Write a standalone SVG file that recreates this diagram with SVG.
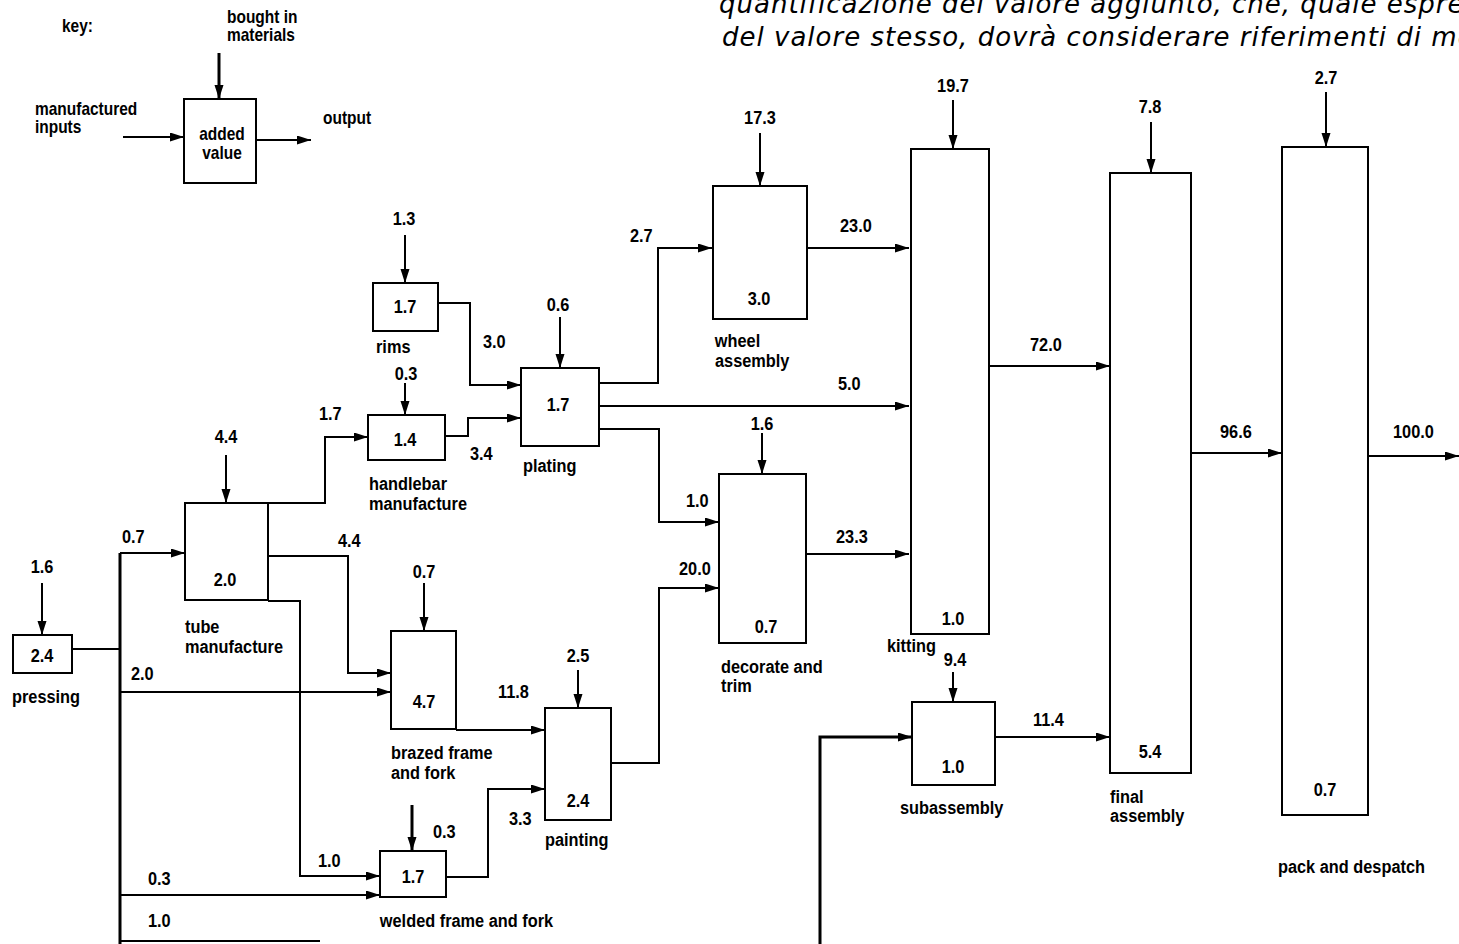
<svg xmlns="http://www.w3.org/2000/svg" width="1459" height="944" viewBox="0 0 1459 944">
<style>
.bg{fill:#fff}
.box{fill:none;stroke:#000;stroke-width:2}
.ln{fill:none;stroke:#000;stroke-width:2}
.tk{fill:none;stroke:#000;stroke-width:3}
.t,.n,.k{font-family:"Liberation Sans",Arial,sans-serif;font-weight:bold;fill:#000;transform-box:fill-box;transform:scaleX(0.86)}
.t{font-size:19px;transform-origin:0 50%}
.n{font-size:19px;text-anchor:middle;transform-origin:50% 50%}
.k{font-size:18px;transform-origin:0 50%}
.kc{text-anchor:middle;transform-origin:50% 50%}
.it{font-family:"DejaVu Sans",Verdana,sans-serif;font-style:italic;font-size:26px;letter-spacing:1px;fill:#000}
</style>
<defs>
<marker id="ah" markerUnits="userSpaceOnUse" markerWidth="15" markerHeight="10" refX="14" refY="4.5" orient="auto">
<path d="M0,0 L14,4.5 L0,9 z" fill="#000"/>
</marker>
</defs>
<rect class="bg" x="0" y="0" width="1459" height="944"/>

<g id="heading">
<text class="it" x="719" y="13">quantificazione del valore aggiunto, che, quale espressione</text>
<text class="it" x="722" y="46">del valore stesso, dovrà considerare riferimenti di mercato</text>
</g>

<g id="key">
<text class="k" x="62" y="32">key:</text>
<text class="k" x="227" y="23">bought in</text>
<text class="k" x="227" y="41">materials</text>
<text class="k" x="35" y="115">manufactured</text>
<text class="k" x="35" y="133">inputs</text>
<text class="k" x="323" y="124">output</text>
<rect class="box" x="184" y="99" width="72" height="84"/>
<text class="k kc" x="222" y="140">added</text>
<text class="k kc" x="222" y="159">value</text>
<line class="tk" x1="219" y1="53" x2="219" y2="99" marker-end="url(#ah)"/>
<line class="ln" x1="123" y1="137" x2="184" y2="137" marker-end="url(#ah)"/>
<line class="ln" x1="256" y1="140" x2="311" y2="140" marker-end="url(#ah)"/>
</g>

<g id="pressing">
<rect class="box" x="13" y="635" width="59" height="38"/>
<text class="n" x="42" y="662">2.4</text>
<text class="n" x="42" y="573">1.6</text>
<line class="ln" x1="42" y1="583" x2="42" y2="635" marker-end="url(#ah)"/>
<text class="t" x="12" y="703">pressing</text>
</g>

<g id="tube">
<rect class="box" x="185" y="503" width="83" height="97"/>
<text class="n" x="225" y="586">2.0</text>
<text class="n" x="226" y="443">4.4</text>
<line class="ln" x1="226" y1="455" x2="226" y2="503" marker-end="url(#ah)"/>
<text class="t" x="185" y="633">tube</text>
<text class="t" x="185" y="653">manufacture</text>
</g>

<g id="brazed">
<rect class="box" x="391" y="631" width="65" height="98"/>
<text class="n" x="424" y="708">4.7</text>
<text class="n" x="424" y="578">0.7</text>
<line class="ln" x1="424" y1="583" x2="424" y2="631" marker-end="url(#ah)"/>
<text class="t" x="391" y="759">brazed frame</text>
<text class="t" x="391" y="779">and fork</text>
</g>

<g id="welded">
<rect class="box" x="380" y="851" width="66" height="46"/>
<text class="n" x="413" y="883">1.7</text>
<text class="t" x="433" y="838">0.3</text>
<line class="tk" x1="412" y1="805" x2="412" y2="851" marker-end="url(#ah)"/>
<text class="t" x="380" y="927">welded frame and fork</text>
</g>

<g id="painting">
<rect class="box" x="545" y="708" width="66" height="112"/>
<text class="n" x="578" y="807">2.4</text>
<text class="n" x="578" y="662">2.5</text>
<line class="ln" x1="578" y1="670" x2="578" y2="708" marker-end="url(#ah)"/>
<text class="t" x="545" y="846">painting</text>
</g>

<g id="rims">
<rect class="box" x="373" y="283" width="65" height="48"/>
<text class="n" x="405" y="313">1.7</text>
<text class="n" x="404" y="225">1.3</text>
<line class="ln" x1="405" y1="235" x2="405" y2="283" marker-end="url(#ah)"/>
<text class="t" x="376" y="353">rims</text>
</g>

<g id="handlebar">
<rect class="box" x="368" y="415" width="77" height="45"/>
<text class="n" x="405" y="446">1.4</text>
<text class="n" x="406" y="380">0.3</text>
<line class="ln" x1="405" y1="383" x2="405" y2="415" marker-end="url(#ah)"/>
<text class="t" x="369" y="490">handlebar</text>
<text class="t" x="369" y="510">manufacture</text>
</g>

<g id="plating">
<rect class="box" x="521" y="368" width="78" height="78"/>
<text class="n" x="558" y="411">1.7</text>
<text class="n" x="558" y="311">0.6</text>
<line class="ln" x1="560" y1="317" x2="560" y2="368" marker-end="url(#ah)"/>
<text class="t" x="523" y="472">plating</text>
</g>

<g id="wheel">
<rect class="box" x="713" y="186" width="94" height="133"/>
<text class="n" x="759" y="305">3.0</text>
<text class="n" x="760" y="124">17.3</text>
<line class="ln" x1="760" y1="133" x2="760" y2="186" marker-end="url(#ah)"/>
<text class="t" x="715" y="347">wheel</text>
<text class="t" x="715" y="367">assembly</text>
</g>

<g id="decorate">
<rect class="box" x="719" y="474" width="87" height="169"/>
<text class="n" x="766" y="633">0.7</text>
<text class="n" x="762" y="430">1.6</text>
<line class="ln" x1="762" y1="433" x2="762" y2="474" marker-end="url(#ah)"/>
<text class="t" x="721" y="673">decorate and</text>
<text class="t" x="721" y="692">trim</text>
</g>

<g id="kitting">
<rect class="box" x="911" y="149" width="78" height="485"/>
<text class="n" x="953" y="625">1.0</text>
<text class="n" x="953" y="92">19.7</text>
<line class="ln" x1="953" y1="100" x2="953" y2="149" marker-end="url(#ah)"/>
<text class="t" x="887" y="652">kitting</text>
</g>

<g id="subassembly">
<rect class="box" x="912" y="702" width="83" height="83"/>
<text class="n" x="953" y="773">1.0</text>
<text class="n" x="955" y="666">9.4</text>
<line class="ln" x1="953" y1="672" x2="953" y2="702" marker-end="url(#ah)"/>
<text class="t" x="900" y="814">subassembly</text>
</g>

<g id="final">
<rect class="box" x="1110" y="173" width="81" height="600"/>
<text class="n" x="1150" y="758">5.4</text>
<text class="n" x="1150" y="113">7.8</text>
<line class="ln" x1="1151" y1="122" x2="1151" y2="173" marker-end="url(#ah)"/>
<text class="t" x="1110" y="803">final</text>
<text class="t" x="1110" y="822">assembly</text>
</g>

<g id="pack">
<rect class="box" x="1282" y="147" width="86" height="668"/>
<text class="n" x="1325" y="796">0.7</text>
<text class="n" x="1326" y="84">2.7</text>
<line class="ln" x1="1326" y1="92" x2="1326" y2="147" marker-end="url(#ah)"/>
<text class="t" x="1278" y="873">pack and despatch</text>
</g>

<g id="connectors">
<polyline class="ln" points="72,649 120,649"/>
<polyline class="tk" points="120,553 120,944"/>
<polyline class="ln" points="120,553 185,553" marker-end="url(#ah)"/>
<polyline class="ln" points="120,692 391,692" marker-end="url(#ah)"/>
<polyline class="ln" points="120,895 380,895" marker-end="url(#ah)"/>
<polyline class="ln" points="120,941 320,941"/>
<polyline class="ln" points="268,503 325,503 325,437 368,437" marker-end="url(#ah)"/>
<polyline class="ln" points="268,556 348,556 348,673 391,673" marker-end="url(#ah)"/>
<polyline class="ln" points="268,601 300,601 300,876 380,876" marker-end="url(#ah)"/>
<polyline class="ln" points="456,730 545,730" marker-end="url(#ah)"/>
<polyline class="ln" points="446,877 488,877 488,789 545,789" marker-end="url(#ah)"/>
<polyline class="ln" points="611,763 659,763 659,588 719,588" marker-end="url(#ah)"/>
<polyline class="ln" points="438,303 470,303 470,385 521,385" marker-end="url(#ah)"/>
<polyline class="ln" points="445,436 468,436 468,418 521,418" marker-end="url(#ah)"/>
<polyline class="ln" points="599,383 658,383 658,248 712,248" marker-end="url(#ah)"/>
<polyline class="ln" points="599,406 909,406" marker-end="url(#ah)"/>
<polyline class="ln" points="599,429 659,429 659,522 719,522" marker-end="url(#ah)"/>
<polyline class="ln" points="807,248 909,248" marker-end="url(#ah)"/>
<polyline class="ln" points="806,554 909,554" marker-end="url(#ah)"/>
<polyline class="ln" points="989,366 1110,366" marker-end="url(#ah)"/>
<polyline class="tk" points="820,944 820,737 912,737" marker-end="url(#ah)"/>
<polyline class="ln" points="995,737 1110,737" marker-end="url(#ah)"/>
<polyline class="ln" points="1191,453 1282,453" marker-end="url(#ah)"/>
<polyline class="ln" points="1368,456 1459,456" marker-end="url(#ah)"/>
<text class="t" x="122" y="543">0.7</text>
<text class="t" x="131" y="680">2.0</text>
<text class="t" x="148" y="885">0.3</text>
<text class="t" x="148" y="927">1.0</text>
<text class="t" x="319" y="420">1.7</text>
<text class="t" x="338" y="547">4.4</text>
<text class="t" x="318" y="867">1.0</text>
<text class="t" x="498" y="698">11.8</text>
<text class="t" x="509" y="825">3.3</text>
<text class="t" x="679" y="575">20.0</text>
<text class="t" x="483" y="348">3.0</text>
<text class="t" x="470" y="460">3.4</text>
<text class="t" x="630" y="242">2.7</text>
<text class="t" x="838" y="390">5.0</text>
<text class="t" x="686" y="507">1.0</text>
<text class="t" x="840" y="232">23.0</text>
<text class="t" x="1030" y="351">72.0</text>
<text class="t" x="836" y="543">23.3</text>
<text class="t" x="1033" y="726">11.4</text>
<text class="t" x="1220" y="438">96.6</text>
<text class="t" x="1393" y="438">100.0</text>
</g>
</svg>
